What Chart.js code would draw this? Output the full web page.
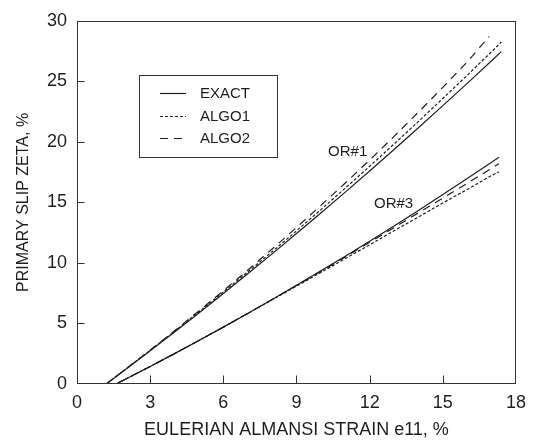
<!DOCTYPE html>
<html><head><meta charset="utf-8">
<style>html,body{margin:0;padding:0;background:#fff}canvas{display:block}</style>
<script src="https://cdn.jsdelivr.net/npm/chart.js@4.4.0/dist/chart.umd.min.js"></script>
</head><body>
<canvas id="c" width="534" height="444"></canvas>
<script>
// ---- data ----
const seriesNames = ['EXACT', 'ALGO1', 'ALGO2'];
const xTickValues = [0, 3, 6, 9, 12, 15, 18];
const yTickValues = [0, 5, 10, 15, 20, 25, 30];

const xOR1 = [0, 1.2, 2, 3, 4, 5, 6, 7, 8, 9, 10, 11, 12, 13, 14, 15, 16, 17, 17.4];
const exactOR1 = [0, 0, 1.21, 2.74, 4.29, 5.87, 7.48, 9.1, 10.75, 12.43, 14.13, 15.85, 17.6, 19.37, 21.17, 22.99, 24.83, 26.7, 27.45];
const algo1OR1 = [0, 0, 1.23, 2.78, 4.35, 5.95, 7.6, 9.25, 10.93, 12.65, 14.4, 16.18, 17.98, 19.82, 21.69, 23.58, 25.5, 27.45, 28.25];
const xOR1Algo2 = [0, 1.2, 2, 3, 4, 5, 6, 7, 8, 9, 10, 11, 12, 13, 14, 15, 16, 16.9];
const algo2OR1 = [0, 0, 1.24, 2.8, 4.4, 6.03, 7.7, 9.4, 11.15, 12.93, 14.75, 16.6, 18.5, 20.45, 22.45, 24.5, 26.6, 28.7];

const xOR3 = [0, 1.6, 2, 3, 4, 5, 6, 7, 8, 9, 10, 11, 12, 13, 14, 15, 16, 17, 17.3];
const exactOR3 = [0, 0, 0.41, 1.45, 2.51, 3.6, 4.7, 5.83, 6.98, 8.15, 9.35, 10.56, 11.8, 13.06, 14.34, 15.65, 16.97, 18.32, 18.72];
const algo1OR3 = [0, 0, 0.41, 1.45, 2.51, 3.6, 4.7, 5.83, 6.96, 8.08, 9.22, 10.36, 11.5, 12.66, 13.79, 14.95, 16.07, 17.22, 17.52];
const algo2OR3 = [0, 0, 0.41, 1.45, 2.51, 3.6, 4.7, 5.83, 6.98, 8.13, 9.3, 10.5, 11.7, 12.91, 14.14, 15.35, 16.57, 17.82, 18.2];

const curveLabels = ['OR#1', 'OR#3'];
const curveLabelAt = [[11.1, 19.15], [12.98, 14.87]];

// ---- styling ----
const INK = '#1e1e1e';
const FONT = '"Liberation Sans", Arial, Helvetica, sans-serif';
const dashes = [[], [3, 2], [8, 6]];

function pts(xs, ys) { return ys.map((v, i) => ({ x: xs[i], y: v })); }
function ds(label, xs, ys, k) {
  return { label, data: pts(xs, ys), borderColor: INK, borderWidth: 1.2, borderDash: dashes[k],
           pointRadius: 0, tension: 0, fill: false };
}

const datasets = [
  ds(seriesNames[0], xOR1, exactOR1, 0),
  ds(seriesNames[1], xOR1, algo1OR1, 1),
  ds(seriesNames[2], xOR1Algo2, algo2OR1, 2),
  ds(seriesNames[0], xOR3, exactOR3, 0),
  ds(seriesNames[1], xOR3, algo1OR3, 1),
  ds(seriesNames[2], xOR3, algo2OR3, 2)
];

const framePlugin = {
  id: 'frame',
  afterDatasetsDraw(chart) {
    const { ctx, chartArea: a, scales: { x, y } } = chart;
    ctx.save();
    ctx.strokeStyle = '#333';
    ctx.lineWidth = 1;
    const L = Math.round(a.left) + 0.5, R = Math.round(a.right) - 0.5;
    const T = Math.round(a.top) + 0.5, B = Math.round(a.bottom) - 0.5;
    ctx.strokeRect(L, T, R - L, B - T);
    ctx.beginPath();
    xTickValues.slice(1, -1).forEach(v => {
      const px = Math.round(x.getPixelForValue(v)) + 0.5;
      ctx.moveTo(px, B); ctx.lineTo(px, B - 8);
    });
    yTickValues.slice(1, -1).forEach(v => {
      const py = Math.round(y.getPixelForValue(v)) + 0.5;
      ctx.moveTo(L, py); ctx.lineTo(L + 7, py);
    });
    ctx.stroke();

    // curve labels
    ctx.fillStyle = INK;
    ctx.font = '15px ' + FONT;
    ctx.textAlign = 'center';
    ctx.textBaseline = 'middle';
    curveLabels.forEach((t, i) => {
      ctx.fillText(t, x.getPixelForValue(curveLabelAt[i][0]), y.getPixelForValue(curveLabelAt[i][1]));
    });

    // legend box
    const bx = 139.5, by = 75.5, bw = 138, bh = 82;
    ctx.fillStyle = '#fff';
    ctx.fillRect(bx, by, bw, bh);
    ctx.strokeStyle = '#333';
    ctx.strokeRect(bx, by, bw, bh);
    const rows = [93, 116, 138];
    chart.data.datasets.slice(0, 3).forEach((d, i) => {
      ctx.beginPath();
      ctx.setLineDash(d.borderDash);
      ctx.strokeStyle = INK;
      ctx.lineWidth = 1.2;
      ctx.moveTo(160, rows[i] + 0.5); ctx.lineTo(186, rows[i] + 0.5);
      ctx.stroke();
      ctx.setLineDash([]);
      ctx.fillStyle = INK;
      ctx.textAlign = 'left';
      ctx.fillText(d.label, 200, rows[i] + 1);
    });
    ctx.restore();
  }
};

new Chart(document.getElementById('c'), {
  type: 'line',
  data: { datasets },
  options: {
    responsive: false,
    animation: false,
    devicePixelRatio: 1,
    layout: { padding: { top: 19, right: 11, left: 0, bottom: 0 } },
    plugins: { legend: { display: false }, tooltip: { enabled: false } },
    scales: {
      x: {
        type: 'linear', min: 0, max: 18,
        afterBuildTicks(s) { s.ticks = xTickValues.map(v => ({ value: v })); },
        ticks: { color: INK, font: { family: FONT, size: 18 }, padding: 8, maxRotation: 0 },
        grid: { display: false, drawTicks: false },
        border: { display: false },
        title: { display: true, text: 'EULERIAN ALMANSI STRAIN e11, %', color: INK,
                 font: { family: FONT, size: 18 }, padding: { top: 0, bottom: 3 } },
        afterFit(s) { s.height = 60; }
      },
      y: {
        type: 'linear', min: 0, max: 30,
        afterBuildTicks(s) { s.ticks = yTickValues.map(v => ({ value: v })); },
        ticks: { color: INK, font: { family: FONT, size: 18 }, padding: 10 },
        grid: { display: false, drawTicks: false },
        border: { display: false },
        title: { display: true, text: 'PRIMARY SLIP ZETA, %', color: INK,
                 font: { family: FONT, size: 16 }, padding: { top: 14, bottom: 0 } },
        afterFit(s) { s.width = 77; }
      }
    }
  },
  plugins: [framePlugin]
});
</script>
</body></html>
